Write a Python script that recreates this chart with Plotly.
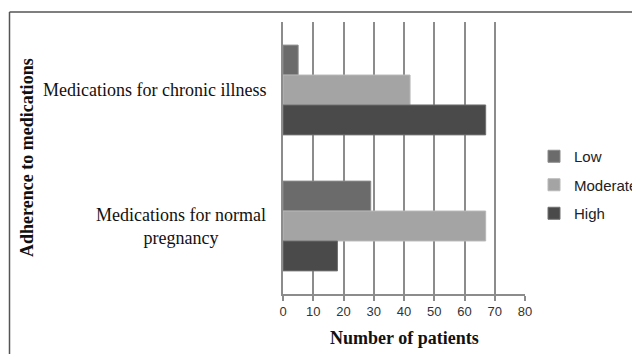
import plotly.graph_objects as go

categories = ["Medications for chronic illness", "Medications for normal pregnancy"]
cat_labels = ["Medications for chronic illness", "Medications for normal<br>pregnancy"]
series_names = ["Low", "Moderate", "High"]
low_vals = [5, 29]
moderate_vals = [42, 67]
high_vals = [67, 18]
x_ticks = [0, 10, 20, 30, 40, 50, 60, 70, 80]

colors = {"Low": "#6b6b6b", "Moderate": "#a4a4a4", "High": "#4a4a4a"}
edges = {"Low": "#8a8a8a", "Moderate": "#b8b8b8", "High": "#707070"}

fig = go.Figure()
for name, vals in zip(series_names, [low_vals, moderate_vals, high_vals]):
    fig.add_trace(go.Bar(
        y=categories, x=vals, name=name, orientation="h",
        marker=dict(color=colors[name], line=dict(color=edges[name], width=1)),
        legendgroup=name,
    ))

W, H = 640, 354
L, T = 275, 14
pw, ph = 242, 272
R, B = W - L - pw, H - T - ph

def px_x(x):
    return (x - L) / pw

def px_y(y):
    return 1 - (y - T) / ph

fig.update_layout(
    width=W, height=H,
    margin=dict(l=L, r=R, t=T, b=B, autoexpand=False),
    paper_bgcolor="white", plot_bgcolor="white",
    barmode="group", bargap=0.34, bargroupgap=0,
    showlegend=True,
    legend=dict(
        x=px_x(526), xanchor="left", y=px_y(132), yanchor="top",
        font=dict(family="Liberation Sans", size=15, color="#222222"),
        tracegroupgap=6, itemwidth=30, bgcolor="rgba(0,0,0,0)",
    ),
    xaxis=dict(
        range=[0, 80], tickvals=x_ticks, ticktext=[str(t) for t in x_ticks],
        showgrid=True, gridcolor="#8c8c8c", gridwidth=1.5,
        showline=True, linecolor="#8c8c8c", linewidth=1.5,
        ticks="outside", ticklen=5, tickcolor="#8c8c8c", tickwidth=1.5,
        tickfont=dict(family="Liberation Sans", size=13, color="#333333"),
        zeroline=False, fixedrange=True,
    ),
    yaxis=dict(
        categoryorder="array", categoryarray=categories, autorange="reversed",
        showticklabels=False, showline=True, linecolor="#8c8c8c", linewidth=1.5,
        showgrid=False, zeroline=False, ticks="",
    ),
)

for cat, lab in zip(categories, cat_labels):
    fig.add_annotation(
        x=px_x(260), xref="paper", y=cat, yref="y",
        text=lab, showarrow=False, xanchor="right", yanchor="middle", align="center",
        font=dict(family="Liberation Serif", size=18, color="#111111"),
    )

fig.add_annotation(
    x=px_x(19), xref="paper", y=0.5, yref="paper",
    text="<b>Adherence to medications</b>", textangle=-90, showarrow=False,
    xanchor="center", yanchor="middle",
    font=dict(family="Liberation Serif", size=18, color="#111111"),
)
fig.add_annotation(
    x=0.5, xref="paper", y=px_y(330), yref="paper",
    text="<b>Number of patients</b>", showarrow=False,
    xanchor="center", yanchor="middle",
    font=dict(family="Liberation Serif", size=18, color="#111111"),
)

fig.add_shape(type="line", xref="paper", yref="paper", x0=px_x(1.5), y0=px_y(4), x1=px_x(640), y1=px_y(4),
              line=dict(color="#555555", width=1.5))
fig.add_shape(type="line", xref="paper", yref="paper", x0=px_x(1.5), y0=px_y(4), x1=px_x(1.5), y1=px_y(354),
              line=dict(color="#555555", width=1.5))

fig.write_html("out.html")
